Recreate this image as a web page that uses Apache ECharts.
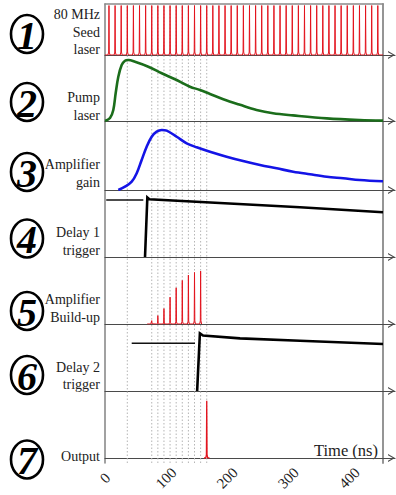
<!DOCTYPE html>
<html><head><meta charset="utf-8">
<script src="https://cdn.jsdelivr.net/npm/echarts@6/dist/echarts.min.js"></script>
<style>html,body{margin:0;padding:0;background:#fff}#c{width:396px;height:495px}</style>
</head><body><div id="c"></div>
<script>
// ---------------- data ----------------
const xTickValues = [0, 100, 200, 300, 400];
const timeAxisTitle = 'Time (ns)';
const panelNumbers = ['1', '2', '3', '4', '5', '6', '7'];
const panelLabels = ['80 MHz\nSeed\nlaser', 'Pump\nlaser', 'Amplifier\ngain', 'Delay 1\ntrigger',
  'Amplifier\nBuild-up', 'Delay 2\ntrigger', 'Output'];

// dotted guide lines (time, ns)
const markerTimes = [36.5, 76.5, 86.5, 96.5, 106.5, 116.5, 126.5, 136.5, 146.5, 156.5, 166.5];

// panel 1: seed pulses
const seedPulseTimes = [6.5, 16.5, 26.5, 36.5, 46.5, 56.5, 66.5, 76.5, 86.5, 96.5,
  106.5, 116.5, 126.5, 136.5, 146.5, 156.5, 166.5, 176.5, 186.5, 196.5,
  206.5, 216.5, 226.5, 236.5, 246.5, 256.5, 266.5, 276.5, 286.5, 296.5,
  306.5, 316.5, 326.5, 336.5, 346.5, 356.5, 366.5, 376.5, 386.5, 396.5,
  406.5, 416.5, 426.5, 436.5, 446.5];
const seedPulseHeight = 0.97;

// panel 2: pump laser
const pumpTimes = [0, 8.2, 13.6, 17.5, 21.8, 27.3, 32.7, 38.1, 49.1, 70.9, 92.8, 114.6, 139, 155.5,
  171.8, 193.6, 221, 248, 275, 307.7, 363, 417, 455];
const pumpValues = [0, 0.045, 0.167, 0.424, 0.671, 0.848, 0.914, 0.924, 0.898, 0.823, 0.723, 0.632,
  0.52, 0.47, 0.41, 0.33, 0.245, 0.167, 0.117, 0.085, 0.04, 0.015, 0.006];

// panel 3: amplifier gain
const gainTimes = [21.8, 32.7, 43.7, 51.9, 60, 68.2, 76.4, 84.6, 92.8, 101, 117.3, 133.7, 150,
  171.8, 199, 226, 253.7, 281, 308, 335.5, 363, 390, 417, 455];
const gainValues = [0, 0.048, 0.12, 0.242, 0.435, 0.628, 0.772, 0.845, 0.87, 0.86, 0.772, 0.677,
  0.619, 0.555, 0.483, 0.42, 0.362, 0.314, 0.265, 0.228, 0.193, 0.17, 0.145, 0.126];

// panel 4: delay 1 trigger
const delay1HoldTimes = [2, 62.7];
const delay1HoldValues = [0.851, 0.851];
const delay1Times = [65.5, 69.3, 72.6, 319, 455];
const delay1Values = [0, 0.888, 0.861, 0.742, 0.667];

// panel 5: amplifier build-up
const buildupTimes = [76.5, 86.5, 96.5, 106.5, 116.5, 126.5, 136.5, 146.5, 156.5];
const buildupHeights = [0.05, 0.125, 0.23, 0.40, 0.54, 0.65, 0.73, 0.77, 0.79];
const buildupSpan = [69, 159];

// panel 6: delay 2 trigger
const delay2HoldTimes = [43.7, 147.3];
const delay2HoldValues = [0.712, 0.712];
const delay2Times = [150.8, 155.3, 160.4, 221, 319, 455];
const delay2Values = [0, 0.861, 0.828, 0.786, 0.751, 0.701];

// panel 7: output
const outputTimes = [166.5];
const outputHeights = [0.855];
const outputSpan = [162, 171];

// ---------------- layout / style ----------------
const LEFT = 105, FRAME_RIGHT = 383, AXIS_END = 395, FRAME_TOP = 4, FRAME_BOTTOM = 463;
const T_FRAME_MAX = 455;
const T_AXIS_MAX = T_FRAME_MAX * (AXIS_END - LEFT) / (FRAME_RIGHT - LEFT);
const panelTops = [4, 55, 121, 190, 257, 324, 391];
const panelBottoms = [55, 121, 190, 257, 324, 391, 458];
const circleCenters = [34, 102, 172, 238.5, 311, 375, 459.5];
const labelCenters = [32, 106.5, 173.5, 241.5, 308.5, 376, 456.5];
const SERIF = '"Liberation Serif", "DejaVu Serif", serif';
const PULSE_DT = [-1.6, -0.5, 0, 0.5, 1.6];
const PULSE_FRAC = [0, 0.06, 1, 0.06, 0];
const RED = '#e3141e';

const chevron = 'path://M4,0 L8,7 L6.7,7 L4,2.2 L1.3,7 L0,7 Z';

function zip(ts, vs) { return ts.map((t, i) => [t, vs[i]]); }
function pulseTrain(times, heights, tStart, tEnd) {
  const pts = [[tStart, 0]];
  times.forEach((t, i) => PULSE_DT.forEach((d, j) => pts.push([t + d, heights[i] * PULSE_FRAC[j]])));
  pts.push([tEnd, 0]);
  return pts;
}

const grids = [{ left: LEFT, top: FRAME_TOP, width: FRAME_RIGHT - LEFT, height: FRAME_BOTTOM - FRAME_TOP }];
const xAxes = [{ gridIndex: 0, type: 'value', min: 0, max: T_FRAME_MAX, position: 'top',
  axisLine: { show: true, onZero: false, lineStyle: { color: '#8a8a8a', width: 1.6 } },
  axisTick: { show: false }, axisLabel: { show: false }, splitLine: { show: false } }];
const yAxes = [
  { gridIndex: 0, type: 'value', min: 0, max: 1, position: 'left',
    axisLine: { show: true, onZero: false, lineStyle: { color: '#8a8a8a', width: 1.6 } },
    axisTick: { show: false }, axisLabel: { show: false }, splitLine: { show: false } },
  { gridIndex: 0, type: 'value', min: 0, max: 1, position: 'right',
    axisLine: { show: true, onZero: false, lineStyle: { color: '#8a8a8a', width: 1.8 } },
    axisTick: { show: false }, axisLabel: { show: false }, splitLine: { show: false } }
];

for (let i = 0; i < 7; i++) {
  const last = i === 6;
  grids.push({ left: LEFT, top: panelTops[i], width: AXIS_END - LEFT, height: panelBottoms[i] - panelTops[i] });
  xAxes.push({
    gridIndex: i + 1, type: 'value', min: 0, max: T_AXIS_MAX, interval: 100,
    axisLine: { show: true, onZero: false, symbol: ['none', chevron], symbolSize: [8, 7], symbolOffset: [0, -3.5],
      lineStyle: { color: '#4a4a4a', width: 1.2 } },
    axisTick: { show: false }, splitLine: { show: false },
    axisLabel: last ? {
      show: true, rotate: 45, align: 'center', verticalAlign: 'middle', margin: 20,
      fontFamily: SERIF, fontSize: 15, color: '#222', showMaxLabel: false, showMinLabel: true,
      formatter: v => (xTickValues.indexOf(v) >= 0 ? String(v) : '')
    } : { show: false }
  });
  yAxes.push({ gridIndex: i + 1, type: 'value', min: 0, max: 1, show: false });
}

// dotted guide lines
const markerData = [];
markerTimes.forEach(t => { markerData.push([t, 0], [t, 1], [t, '-']); });

const base = { type: 'line', showSymbol: false, symbol: 'none', animation: false, silent: true, z: 3 };
const series = [
  Object.assign({}, base, { xAxisIndex: 0, yAxisIndex: 0, data: markerData, connectNulls: false, z: 1,
    lineStyle: { color: '#b5b5b5', width: 1, type: [1.5, 2] } }),
  Object.assign({}, base, { xAxisIndex: 1, yAxisIndex: 2,
    data: pulseTrain(seedPulseTimes, seedPulseTimes.map(() => seedPulseHeight), 0, T_FRAME_MAX),
    lineStyle: { color: RED, width: 1 } }),
  Object.assign({}, base, { xAxisIndex: 2, yAxisIndex: 3, data: zip(pumpTimes, pumpValues), smooth: 0.35,
    lineStyle: { color: '#1b6d1b', width: 2.6 } }),
  Object.assign({}, base, { xAxisIndex: 3, yAxisIndex: 4, data: zip(gainTimes, gainValues), smooth: 0.35,
    lineStyle: { color: '#1414e6', width: 2.6 } }),
  Object.assign({}, base, { xAxisIndex: 4, yAxisIndex: 5, data: zip(delay1HoldTimes, delay1HoldValues),
    lineStyle: { color: '#111', width: 1.5 } }),
  Object.assign({}, base, { xAxisIndex: 4, yAxisIndex: 5, data: zip(delay1Times, delay1Values),
    lineStyle: { color: '#000', width: 2.6, join: 'miter' } }),
  Object.assign({}, base, { xAxisIndex: 5, yAxisIndex: 6,
    data: pulseTrain(buildupTimes, buildupHeights, buildupSpan[0], buildupSpan[1]),
    lineStyle: { color: RED, width: 1 } }),
  Object.assign({}, base, { xAxisIndex: 6, yAxisIndex: 7, data: zip(delay2HoldTimes, delay2HoldValues),
    lineStyle: { color: '#111', width: 1.5 } }),
  Object.assign({}, base, { xAxisIndex: 6, yAxisIndex: 7, data: zip(delay2Times, delay2Values),
    lineStyle: { color: '#000', width: 2.6, join: 'miter' } }),
  Object.assign({}, base, { xAxisIndex: 7, yAxisIndex: 8,
    data: pulseTrain(outputTimes, outputHeights, outputSpan[0], outputSpan[1]),
    lineStyle: { color: RED, width: 1.3 } })
];

const graphics = [];
panelNumbers.forEach((n, i) => {
  graphics.push({ type: 'ellipse', shape: { cx: 27, cy: circleCenters[i], rx: 16, ry: 19 }, silent: true,
    style: { fill: '#fff', stroke: '#000', lineWidth: 2.6 } });
  graphics.push({ type: 'text', x: 27, y: circleCenters[i] + 1, silent: true,
    style: { text: n, fontFamily: SERIF, fontSize: 40, fontWeight: 'bold', fontStyle: 'italic',
      fill: '#000', align: 'center', verticalAlign: 'middle' } });
  graphics.push({ type: 'text', x: 100, y: labelCenters[i], silent: true,
    style: { text: panelLabels[i], fontFamily: SERIF, fontSize: 14, lineHeight: 17.5, fill: '#222',
      align: 'right', verticalAlign: 'middle' } });
});
graphics.push({ type: 'text', x: 378, y: 450, silent: true,
  style: { text: timeAxisTitle, fontFamily: SERIF, fontSize: 16.5, fill: '#222', align: 'right', verticalAlign: 'middle' } });

const chart = echarts.init(document.getElementById('c'), null, { renderer: 'svg' });
chart.setOption({
  backgroundColor: '#fff',
  animation: false,
  grid: grids,
  xAxis: xAxes,
  yAxis: yAxes,
  series: series,
  graphic: { elements: graphics }
});
</script>
</body></html>
